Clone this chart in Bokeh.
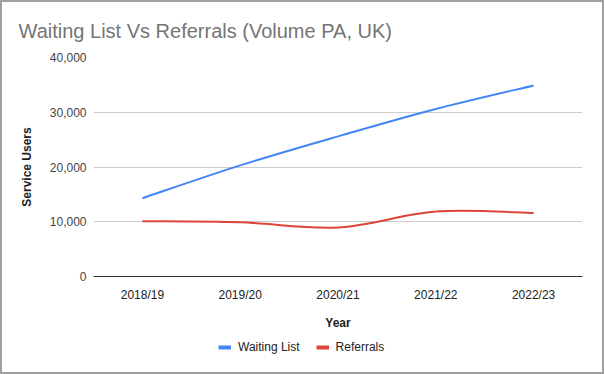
from bokeh.plotting import figure
from bokeh.layouts import column
from bokeh.models import Range1d, FixedTicker, NumeralTickFormatter, Legend, LegendItem, ColumnDataSource
from bokeh.embed import file_html
from bokeh.resources import INLINE

years = ["2018/19", "2019/20", "2020/21", "2021/22", "2022/23"]
waiting_list = [14300, 20300, 25600, 30600, 34900]
referrals = [10100, 9900, 8950, 11850, 11600]
y_ticks = [0, 10000, 20000, 30000, 40000]

FONT = "Liberation Sans"
BLUE = "#4285F4"
RED = "#DB4437"
FRAME = "#a0a0a0"


def bezier_segments(xs, ys, t=1.0):
    n = len(xs)
    d = dict(x0=[], y0=[], x1=[], y1=[], cx0=[], cy0=[], cx1=[], cy1=[])
    for i in range(n - 1):
        xm, ym = (xs[i - 1], ys[i - 1]) if i > 0 else (xs[i], ys[i])
        xp, yp = (xs[i + 2], ys[i + 2]) if i + 2 < n else (xs[i + 1], ys[i + 1])
        d["x0"].append(xs[i]); d["y0"].append(ys[i])
        d["x1"].append(xs[i + 1]); d["y1"].append(ys[i + 1])
        d["cx0"].append(xs[i] + (xs[i + 1] - xm) / 6 * t)
        d["cy0"].append(ys[i] + (ys[i + 1] - ym) / 6 * t)
        d["cx1"].append(xs[i + 1] - (xp - xs[i]) / 6 * t)
        d["cy1"].append(ys[i + 1] - (yp - ys[i]) / 6 * t)
    return ColumnDataSource(d)


xpos = list(range(len(years)))

p = figure(width=604, height=332, x_range=Range1d(-0.5, len(years) - 0.5),
           y_range=Range1d(0, 40000), output_backend="svg", toolbar_location=None,
           min_border_left=93, min_border_right=22, min_border_top=57, min_border_bottom=51,
           styles={"box-shadow": f"inset 2px 2px 0 {FRAME}, inset -2px 0 0 {FRAME}"})
p.background_fill_alpha = 0
p.border_fill_alpha = 0

p.title.text = "Waiting List Vs Referrals (Volume PA, UK)"
p.title.text_font = FONT
p.title.text_font_size = "20px"
p.title.text_font_style = "normal"
p.title.text_color = "#757575"
p.title.offset = -75
p.title.standoff = 31

p.outline_line_color = None
p.xgrid.grid_line_color = None
p.ygrid.grid_line_color = "#cccccc"
p.ygrid.ticker = FixedTicker(ticks=y_ticks)

p.yaxis.ticker = FixedTicker(ticks=y_ticks)
p.yaxis.formatter = NumeralTickFormatter(format="0,0")
p.yaxis.axis_line_color = None
p.yaxis.major_tick_line_color = None
p.yaxis.major_tick_out = 0
p.yaxis.minor_tick_line_color = None
p.yaxis.major_label_text_font = FONT
p.yaxis.major_label_text_font_size = "12px"
p.yaxis.major_label_text_color = "#444444"
p.yaxis.major_label_standoff = 7
p.yaxis.axis_label = "Service Users"
p.yaxis.axis_label_text_font = FONT
p.yaxis.axis_label_text_font_size = "12px"
p.yaxis.axis_label_text_font_style = "bold"
p.yaxis.axis_label_text_color = "#222222"
p.yaxis.axis_label_standoff = 13

p.xaxis.ticker = FixedTicker(ticks=xpos)
p.xaxis.major_label_overrides = {i: y for i, y in enumerate(years)}
p.xaxis.axis_line_color = "#333333"
p.xaxis.major_tick_line_color = None
p.xaxis.major_tick_out = 0
p.xaxis.minor_tick_line_color = None
p.xaxis.major_label_text_font = FONT
p.xaxis.major_label_text_font_size = "12px"
p.xaxis.major_label_text_color = "#222222"
p.xaxis.major_label_standoff = 11
p.xaxis.axis_label = "Year"
p.xaxis.axis_label_text_font = FONT
p.xaxis.axis_label_text_font_size = "12px"
p.xaxis.axis_label_text_font_style = "bold"
p.xaxis.axis_label_text_color = "#222222"
p.xaxis.axis_label_standoff = 11

p.bezier(x0="x0", y0="y0", x1="x1", y1="y1", cx0="cx0", cy0="cy0", cx1="cx1", cy1="cy1",
         source=bezier_segments(xpos, waiting_list), line_color=BLUE, line_width=2)
p.bezier(x0="x0", y0="y0", x1="x1", y1="y1", cx0="cx0", cy0="cy0", cx1="cx1", cy1="cy1",
         source=bezier_segments(xpos, referrals), line_color=RED, line_width=2)

# legend strip below the chart
q = figure(width=604, height=42, x_range=Range1d(0, 489), y_range=Range1d(0, 42),
           output_backend="svg", toolbar_location=None, x_axis_type=None, y_axis_type=None,
           min_border_left=0, min_border_right=0, min_border_top=0, min_border_bottom=0,
           styles={"box-shadow": f"inset 2px -2px 0 {FRAME}, inset -2px 0 0 {FRAME}"})
q.background_fill_alpha = 0
q.border_fill_alpha = 0
q.grid.grid_line_color = None
q.outline_line_color = None
lw = q.line(x=[-20, -10], y=[-20, -20], line_color=BLUE, line_width=4)
lr = q.line(x=[-20, -10], y=[-20, -20], line_color=RED, line_width=4)

legend = Legend(items=[LegendItem(label="Waiting List", renderers=[lw]),
                       LegendItem(label="Referrals", renderers=[lr])],
                orientation="horizontal", location=(125, 20),
                glyph_width=13, glyph_height=14, label_height=14, label_standoff=7, spacing=16,
                label_text_font=FONT, label_text_font_size="12px", label_text_color="#222222",
                background_fill_alpha=0, border_line_color=None, padding=0, margin=0)
q.add_layout(legend, "center")

layout = column(p, q, spacing=0)

open("out.html", "w").write(file_html(layout, INLINE))
